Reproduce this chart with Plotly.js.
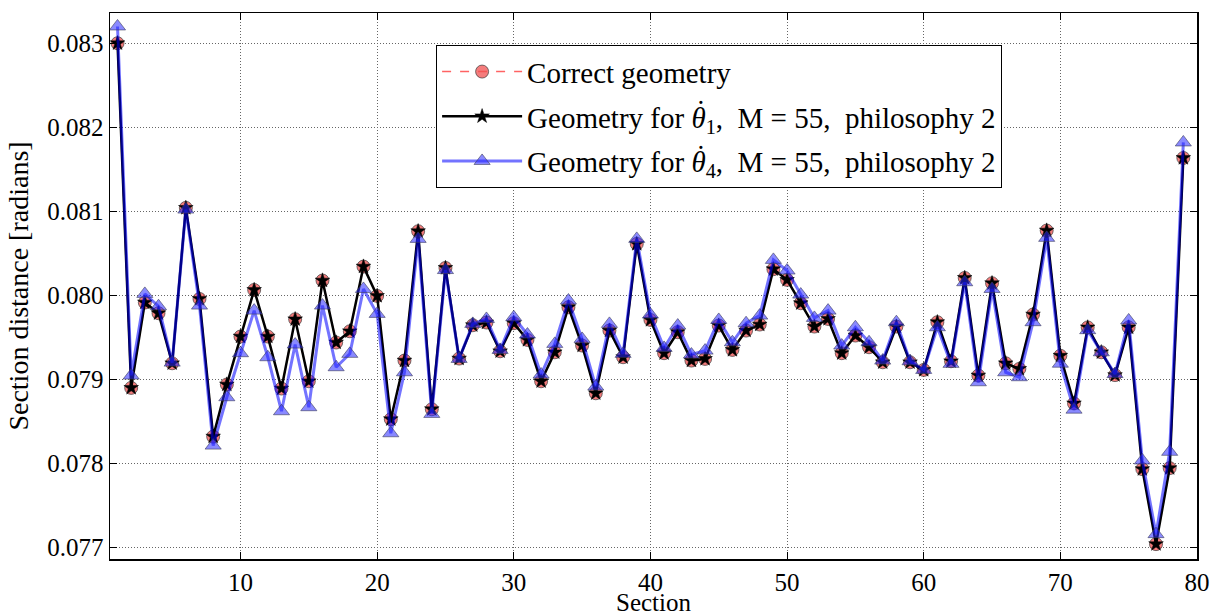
<!DOCTYPE html>
<html>
<head>
<meta charset="utf-8">
<script src="https://cdn.plot.ly/plotly-3.0.1.min.js"></script>
<style>html,body{margin:0;padding:0;background:#fff;}#chart{width:1211px;height:616px;}</style>
</head>
<body>
<div id="chart"></div>
<script>
const sections = Array.from({length: 79}, (_, i) => i + 1);

const correctGeometry = [
  0.08300, 0.078897, 0.079913, 0.079786, 0.07919, 0.08104, 0.079956, 0.078317, 0.078937, 0.079508,
  0.080063, 0.079508, 0.078889, 0.079714, 0.078976, 0.080175, 0.079437, 0.079571, 0.080341, 0.079992,
  0.078524, 0.079222, 0.080762, 0.078643, 0.080325, 0.079246, 0.079643, 0.079675, 0.079333, 0.079667,
  0.079468, 0.078976, 0.079321, 0.079857, 0.079401, 0.078833, 0.079579, 0.079262, 0.080611, 0.079706,
  0.07931, 0.07956, 0.079222, 0.079242, 0.079639, 0.079349, 0.079579, 0.079651, 0.08031, 0.080183,
  0.079905, 0.079627, 0.079718, 0.07931, 0.07952, 0.079381, 0.079202, 0.079627, 0.079202, 0.079111,
  0.079679, 0.079214, 0.080206, 0.079044, 0.080143, 0.07919, 0.079123, 0.07977, 0.08077, 0.07928,
  0.078712, 0.079617, 0.079321, 0.079049, 0.079617, 0.07793, 0.077037, 0.077942, 0.081634
];

const geometryTheta1 = [
  0.08300, 0.078897, 0.079913, 0.079786, 0.07919, 0.08104, 0.079956, 0.078317, 0.078937, 0.079508,
  0.080063, 0.079508, 0.078889, 0.079714, 0.078976, 0.080175, 0.079437, 0.079571, 0.080341, 0.079992,
  0.078524, 0.079222, 0.080762, 0.078643, 0.080325, 0.079246, 0.079643, 0.079675, 0.079333, 0.079667,
  0.079468, 0.078976, 0.079321, 0.079857, 0.079401, 0.078833, 0.079579, 0.079262, 0.080611, 0.079706,
  0.07931, 0.07956, 0.079222, 0.079242, 0.079639, 0.079349, 0.079579, 0.079651, 0.08031, 0.080183,
  0.079905, 0.079627, 0.079718, 0.07931, 0.07952, 0.079381, 0.079202, 0.079627, 0.079202, 0.079111,
  0.079679, 0.079214, 0.080206, 0.079044, 0.080143, 0.07919, 0.079123, 0.07977, 0.08077, 0.07928,
  0.078712, 0.079617, 0.079321, 0.079049, 0.079617, 0.07793, 0.077037, 0.077942, 0.081634
];

const geometryTheta4 = [
  0.08320, 0.079044, 0.080016, 0.079869, 0.079198, 0.08102, 0.079877, 0.07821, 0.078786, 0.07931,
  0.079817, 0.079262, 0.078619, 0.079413, 0.078667, 0.079877, 0.079143, 0.079302, 0.080075, 0.079778,
  0.078357, 0.079083, 0.080671, 0.078587, 0.08030, 0.079242, 0.079659, 0.079718, 0.079349, 0.079738,
  0.079532, 0.079056, 0.079421, 0.079937, 0.07948, 0.078913, 0.079659, 0.079302, 0.080671, 0.07977,
  0.079373, 0.079639, 0.079294, 0.079341, 0.079706, 0.07944, 0.079667, 0.079758, 0.080421, 0.080294,
  0.080008, 0.07973, 0.079817, 0.079401, 0.079619, 0.07944, 0.079222, 0.079679, 0.079214, 0.079111,
  0.079619, 0.079183, 0.080155, 0.078964, 0.080075, 0.079083, 0.079024, 0.079679, 0.080683, 0.079185,
  0.078638, 0.079584, 0.079321, 0.079062, 0.0797, 0.078033, 0.077156, 0.078136, 0.081819
];

const yTicks = [0.077, 0.078, 0.079, 0.080, 0.081, 0.082, 0.083];
const xTicks = [10, 20, 30, 40, 50, 60, 70, 80];

const seriesNames = [
  'Correct geometry',
  'Geometry for <i>θ</i><sub>1</sub>,  M = 55,  philosophy 2',
  'Geometry for <i>θ</i><sub>4</sub>,  M = 55,  philosophy 2'
];

const FONT = 'Liberation Serif, DejaVu Serif, serif';
const GRID = {showgrid: true, gridcolor: '#666666', griddash: '1px,2px', gridwidth: 1};

const traces = [
  {
    x: sections, y: correctGeometry, name: seriesNames[0], type: 'scatter', mode: 'lines+markers',
    legendgroup: 'a',
    line: {color: 'rgba(255,60,60,0.8)', width: 1.5, dash: 'dash'},
    marker: {symbol: 'circle', size: 13, color: 'rgba(240,80,80,0.75)', line: {color: 'rgba(60,60,60,0.7)', width: 1}}
  },
  {
    x: sections, y: geometryTheta1, name: seriesNames[1], type: 'scatter', mode: 'lines+markers',
    legendgroup: 'b',
    line: {color: '#000000', width: 2.5},
    marker: {symbol: 'star', size: 11, color: '#000000', line: {color: '#000000', width: 0.5}}
  },
  {
    x: sections, y: geometryTheta4, name: seriesNames[2], type: 'scatter', mode: 'lines+markers',
    legendgroup: 'c',
    line: {color: 'rgba(0,0,255,0.55)', width: 3},
    marker: {symbol: 'triangle-up', size: 14, color: 'rgba(40,40,255,0.55)', line: {color: 'rgba(60,60,90,0.6)', width: 1}}
  }
];

// dots over theta in the legend (time derivative)
const dotAnn = (y) => ({
  text: '˙', xref: 'paper', yref: 'paper', x: 0.5435, y: y,
  xanchor: 'center', yanchor: 'middle', showarrow: false,
  font: {family: FONT, size: 29, color: '#000'}
});

const layout = {
  width: 1211, height: 616,
  margin: {l: 110, r: 14, t: 13, b: 57},
  paper_bgcolor: '#ffffff', plot_bgcolor: '#ffffff',
  font: {family: FONT, size: 24, color: '#000'},
  showlegend: true,
  legend: {
    x: 0.3, y: 0.941, xanchor: 'left', yanchor: 'top',
    bgcolor: '#ffffff', bordercolor: '#000000', borderwidth: 1,
    font: {family: FONT, size: 29, color: '#000'},
    tracegroupgap: 4, itemwidth: 80
  },
  annotations: [dotAnn(0.8205), dotAnn(0.738)],
  xaxis: Object.assign({
    range: [0.45, 80],
    tickvals: xTicks, ticktext: xTicks.map(String),
    ticks: 'inside', ticklen: 7, tickcolor: '#000', tickwidth: 1,
    showline: true, linecolor: '#000', linewidth: 1.5, mirror: 'ticks',
    zeroline: false,
    tickfont: {family: FONT, size: 25, color: '#000'},
    title: {text: 'Section', font: {family: FONT, size: 25, color: '#000'}, standoff: 10}
  }, GRID),
  yaxis: Object.assign({
    range: [0.07686, 0.08336],
    tickvals: yTicks, ticktext: yTicks.map(v => v.toFixed(3)),
    ticks: 'inside', ticklen: 7, tickcolor: '#000', tickwidth: 1,
    showline: true, linecolor: '#000', linewidth: 1.5, mirror: 'ticks',
    zeroline: false,
    tickfont: {family: FONT, size: 25, color: '#000'},
    title: {text: 'Section distance [radians]', font: {family: FONT, size: 28, color: '#000'}, standoff: 10}
  }, GRID)
};

Plotly.newPlot('chart', traces, layout, {displayModeBar: false, staticPlot: true});
</script>
</body>
</html>
